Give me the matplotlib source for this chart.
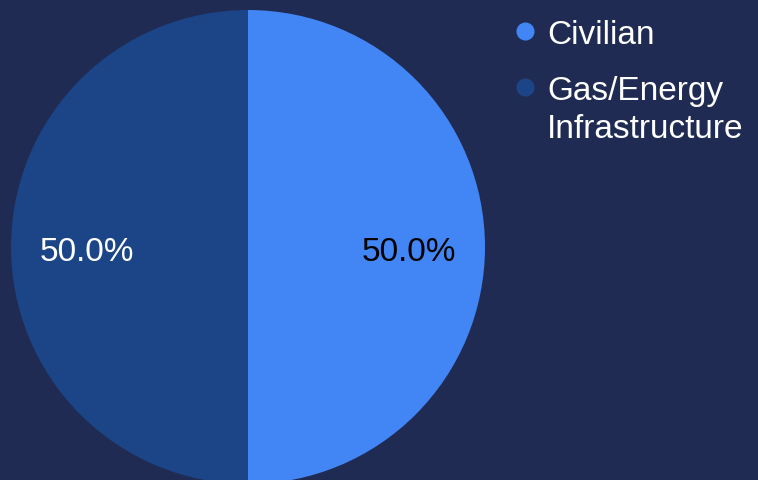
import matplotlib
matplotlib.use("Agg")
import matplotlib.pyplot as plt
from matplotlib.lines import Line2D

BG = "#1f2b52"

categories = ["Civilian", "Gas/Energy\nInfrastructure"]
values = [1, 1]
colors = ["#4285f4", "#1c4587"]
pct_colors = ["black", "white"]

plt.rcParams["font.family"] = ["Liberation Sans", "DejaVu Sans"]

W, H = 758, 481
fig = plt.figure(figsize=(W / 100, H / 100), dpi=100, facecolor=BG)
# pie area: centre near (248, 248) px, radius ~237 px
ax = fig.add_axes([11 / W, -4 / H, 474 / W, 474 / H])
ax.set_facecolor(BG)

wedges, texts, autotexts = ax.pie(
    values, colors=colors, startangle=90, counterclock=False,
    autopct="%1.1f%%", pctdistance=0.68, radius=1.0,
    wedgeprops={"linewidth": 0},
    textprops={"fontsize": 24},
)
for t, c in zip(autotexts, pct_colors):
    t.set_color(c)
    x, y = t.get_position()
    t.set_position((x, y - 0.02))
ax.set_xlim(-1, 1)
ax.set_ylim(-1, 1)
ax.set_aspect("equal")
ax.axis("off")

# legend drawn by hand: dot beside the first line of each label
y_top = 20
for label, c in zip(categories, colors):
    n_lines = label.count("\n") + 1
    fig.text(547 / W, 1 - y_top / H, label, color="white", fontsize=24,
             ha="left", va="top", linespacing=1.28)
    fig.add_artist(Line2D([525 / W], [1 - (y_top + 12) / H], marker="o",
                          linestyle="", markersize=12, markerfacecolor=c,
                          markeredgecolor=c, transform=fig.transFigure))
    y_top += 56 + (n_lines - 1) * 38

fig.savefig("out.png", dpi=100, facecolor=BG)
